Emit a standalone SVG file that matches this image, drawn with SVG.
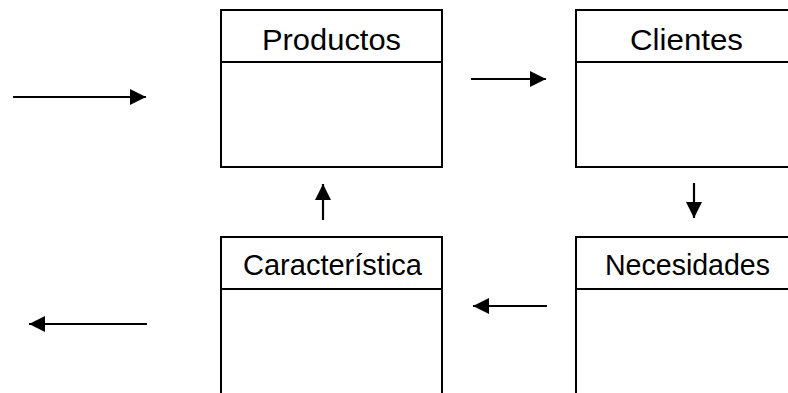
<svg xmlns="http://www.w3.org/2000/svg" width="788" height="393" viewBox="0 0 788 393">
  <style>
    .box { fill: #ffffff; stroke: #000000; stroke-width: 2; }
    .sep { stroke: #000000; stroke-width: 2; }
    .lbl { font-family: "Liberation Sans", Arial, sans-serif; font-size: 29px; fill: #000000; }
    .wire { stroke: #000000; stroke-width: 2.2; fill: none; }
  </style>
  <defs>
    <marker id="head" viewBox="0 0 16 16" refX="16" refY="8" markerWidth="16" markerHeight="16" markerUnits="userSpaceOnUse" orient="auto">
      <path d="M0,0 L16,8 L0,16 Z" fill="#000000"/>
    </marker>
  </defs>

  <rect width="788" height="393" fill="#ffffff"/>

  <g id="productos">
    <rect class="box" x="221" y="10" width="221" height="157"/>
    <line class="sep" x1="221" y1="62" x2="442" y2="62"/>
    <text class="lbl" x="262" y="49.5" textLength="139" lengthAdjust="spacingAndGlyphs">Productos</text>
  </g>

  <g id="clientes">
    <rect class="box" x="576" y="10" width="230" height="157"/>
    <line class="sep" x1="576" y1="62" x2="806" y2="62"/>
    <text class="lbl" x="630" y="49.5" textLength="113" lengthAdjust="spacingAndGlyphs">Clientes</text>
  </g>

  <g id="caracteristica">
    <rect class="box" x="221" y="237" width="221" height="170"/>
    <line class="sep" x1="221" y1="289" x2="442" y2="289"/>
    <text class="lbl" x="243" y="275" textLength="179" lengthAdjust="spacingAndGlyphs">Característica</text>
  </g>

  <g id="necesidades">
    <rect class="box" x="576" y="237" width="230" height="170"/>
    <line class="sep" x1="576" y1="289" x2="806" y2="289"/>
    <text class="lbl" x="605" y="274.5" textLength="165" lengthAdjust="spacingAndGlyphs">Necesidades</text>
  </g>

  <g id="connectors">
    <line class="wire" x1="13" y1="97" x2="146" y2="97" marker-end="url(#head)"/>
    <line class="wire" x1="471" y1="79" x2="546" y2="79" marker-end="url(#head)"/>
    <line class="wire" x1="694" y1="183" x2="694" y2="218" marker-end="url(#head)"/>
    <line class="wire" x1="547" y1="306" x2="473" y2="306" marker-end="url(#head)"/>
    <line class="wire" x1="323" y1="220" x2="323" y2="184" marker-end="url(#head)"/>
    <line class="wire" x1="147" y1="324" x2="29" y2="324" marker-end="url(#head)"/>
  </g>
</svg>
